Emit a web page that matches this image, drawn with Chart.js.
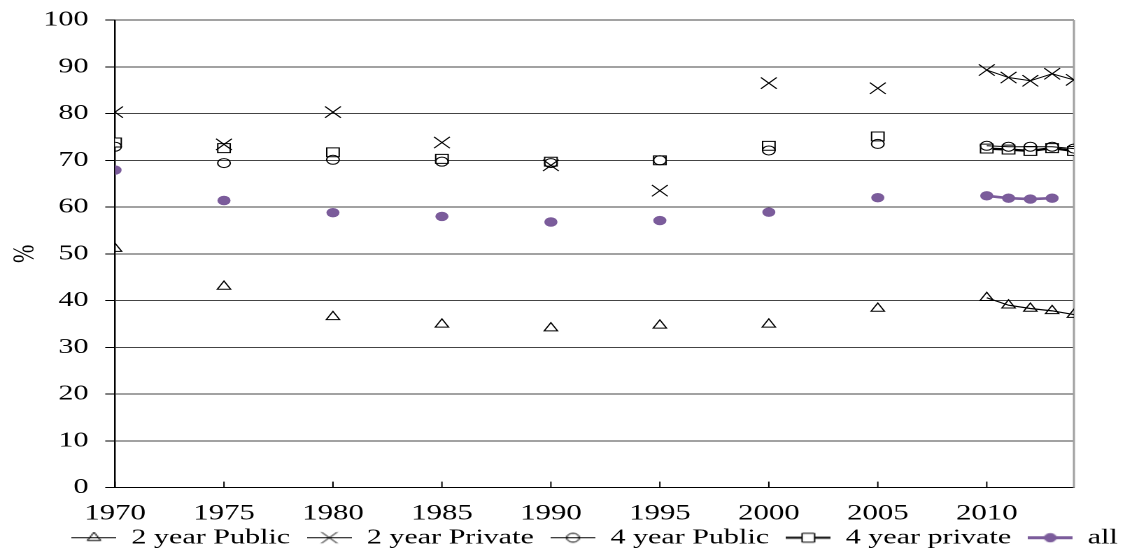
<!DOCTYPE html>
<html><head><meta charset="utf-8">
<script src="https://cdn.jsdelivr.net/npm/chart.js@4"></script>
<style>
html,body{margin:0;padding:0;background:#fff;overflow:hidden;}
#wrap{position:absolute;left:0;top:0;width:804px;height:555px;transform:scaleX(1.399254);transform-origin:0 0;}
</style></head><body>
<div id="wrap"><canvas id="c"></canvas></div>
<script>
// ---- data ----
const years = [1970,1975,1980,1985,1990,1995,2000,2005,2010,2011,2012,2013,2014];
const public2  = [51.1,43.0,36.5,34.9,34.1,34.7,34.9,38.3,40.6,39.0,38.3,37.8,37.0];
const private2 = [80.3,73.4,80.3,73.8,68.9,63.5,86.5,85.4,89.3,87.7,87.0,88.5,87.2];
const public4  = [72.9,69.4,70.1,69.7,69.4,70.0,72.1,73.5,73.1,72.9,72.9,72.9,72.5];
const private4 = [73.8,72.6,71.7,70.3,69.7,70.0,73.1,75.1,72.5,72.3,72.0,72.6,72.0];
const allInst  = [67.9,61.4,58.8,58.0,56.8,57.1,58.9,62.0,62.4,61.9,61.7,61.9,null];
const seriesNames = ['2 year Public','2 year Private','4 year Public','4 year private','all'];
const xMin = 1970, xMax = 2014, xStep = 5;
const yMin = 0, yMax = 100, yStep = 10;
const lineStartYear = 2010;

// ---- styles ----
const purple = '#7b5c9b';
const styles = [
  {ps:'triangle', r:5.5, color:'#000', fill:'rgba(0,0,0,0)', bw:1, lw:1.2},
  {ps:'crossRot', r:8,   color:'#000', fill:'rgba(0,0,0,0)', bw:1, lw:1},
  {ps:'circle',   r:4.5, color:'#000', fill:'rgba(0,0,0,0)', bw:1, lw:1},
  {ps:'rect',     r:6.3, color:'#000', fill:'#fff', bw:1, lw:2.4},
  {ps:'circle',   r:4.2, color:purple, fill:purple, bw:1, lw:2.6}
];
const seriesData = [public2, private2, public4, private4, allInst];

function drawMarker(ctx, s, x, y) {
  const r = s.r;
  ctx.beginPath();
  if (s.ps === 'triangle') {
    ctx.moveTo(x, y - r);
    ctx.lineTo(x + 0.866 * r, y + 0.5 * r);
    ctx.lineTo(x - 0.866 * r, y + 0.5 * r);
    ctx.closePath();
  } else if (s.ps === 'crossRot') {
    const d = r * Math.SQRT1_2;
    ctx.moveTo(x - d, y - d); ctx.lineTo(x + d, y + d);
    ctx.moveTo(x - d, y + d); ctx.lineTo(x + d, y - d);
  } else if (s.ps === 'circle') {
    ctx.arc(x, y, r, 0, Math.PI * 2);
  } else if (s.ps === 'rect') {
    const h = r * Math.SQRT1_2;
    ctx.rect(x - h, y - h, 2 * h, 2 * h);
  }
  ctx.fillStyle = s.fill; ctx.strokeStyle = s.color; ctx.lineWidth = s.bw;
  if (s.ps !== 'crossRot') ctx.fill();
  ctx.stroke();
}
const ICON_W = 32;
function makeIcon(s) {
  const cv = document.createElement('canvas');
  cv.width = ICON_W; cv.height = 17;
  const c = cv.getContext('2d');
  c.strokeStyle = s.color; c.lineWidth = Math.max(1, Math.round(s.lw));
  c.beginPath(); c.moveTo(0, 8.5); c.lineTo(ICON_W, 8.5); c.stroke();
  drawMarker(c, s, ICON_W / 2, 8.5);
  return cv;
}
const icons = styles.map(makeIcon);

const datasets = seriesNames.map((name, i) => {
  const s = styles[i];
  return {
    label: name,
    data: years.map((yr, k) => ({x: yr, y: seriesData[i][k]})),
    borderColor: s.color,
    borderWidth: s.lw,
    pointStyle: s.ps,
    pointRadius: s.r,
    pointBorderWidth: s.bw,
    pointBorderColor: s.color,
    pointBackgroundColor: s.fill,
    backgroundColor: s.fill,
    showLine: true,
    spanGaps: false,
    tension: 0,
    segment: { borderColor: ctx => ctx.p0.parsed.x >= lineStartYear ? s.color : 'rgba(0,0,0,0)' }
  };
});

const LEG_DX = 23, LEG_DY = -17;
const extras = {
  id: 'extras',
  afterLayout(chart) {
    const l = chart.legend;
    l.left += LEG_DX; l.right += LEG_DX; l.top += LEG_DY; l.bottom += LEG_DY;
  },
  beforeDatasetsDraw(chart) {
    const {ctx, chartArea: a, scales: {x}} = chart;
    ctx.save();
    ctx.strokeStyle = '#000'; ctx.lineWidth = 1;
    x.ticks.forEach(t => {
      const px = x.getPixelForValue(t.value);
      ctx.beginPath(); ctx.moveTo(px, a.bottom); ctx.lineTo(px, a.bottom - 6); ctx.stroke();
    });
    ctx.strokeStyle = '#a0a0a0'; ctx.lineWidth = 1.5;
    ctx.beginPath(); ctx.moveTo(a.right, a.top); ctx.lineTo(a.right, a.bottom); ctx.stroke();
    ctx.restore();
  }
};

Chart.defaults.font.family = "'Liberation Serif', 'Times New Roman', serif";
Chart.defaults.color = '#000';

new Chart(document.getElementById('c'), {
  type: 'line',
  data: { datasets },
  plugins: [extras],
  options: {
    responsive: true,
    maintainAspectRatio: false,
    animation: false,
    devicePixelRatio: 2,
    layout: { autoPadding: false, padding: { top: 20, right: 0, left: 0, bottom: -20.5 } },
    plugins: {
      tooltip: { enabled: false },
      legend: {
        position: 'bottom',
        labels: {
          usePointStyle: true,
          pointStyleWidth: ICON_W,
          padding: 12,
          font: { size: 21.5 },
          color: '#000',
          generateLabels(chart) {
            const items = Chart.defaults.plugins.legend.labels.generateLabels(chart);
            items.forEach((it, i) => { it.pointStyle = icons[i]; it.rotation = 0; });
            return items;
          }
        }
      }
    },
    scales: {
      x: {
        type: 'linear', min: xMin, max: xMax,
        ticks: { stepSize: xStep, includeBounds: false, font: { size: 22 }, color: '#000', padding: 5, maxRotation: 0, autoSkip: false, callback: v => String(v) },
        grid: { display: false },
        border: { display: true, color: '#000', width: 1 }
      },
      y: {
        min: yMin, max: yMax,
        afterFit(s) { s.width = 82.2; s.paddingTop = 0; s.paddingBottom = 0; },
        ticks: { stepSize: yStep, font: { size: 21.5 }, color: '#000', padding: 12 },
        grid: { color: '#444', tickColor: '#000', tickLength: 7, lineWidth: 1 },
        border: { color: '#000', width: 1.2 },
        title: { display: true, text: '%', font: { size: 22 }, color: '#000', padding: { top: 5, bottom: 0 } }
      },
      yRight: {
        position: 'right', display: true,
        afterFit(s) { s.width = 36.5; s.paddingTop = 0; s.paddingBottom = 0; },
        ticks: { display: false },
        grid: { display: false },
        border: { display: false }
      }
    }
  }
});
</script>
</body></html>
